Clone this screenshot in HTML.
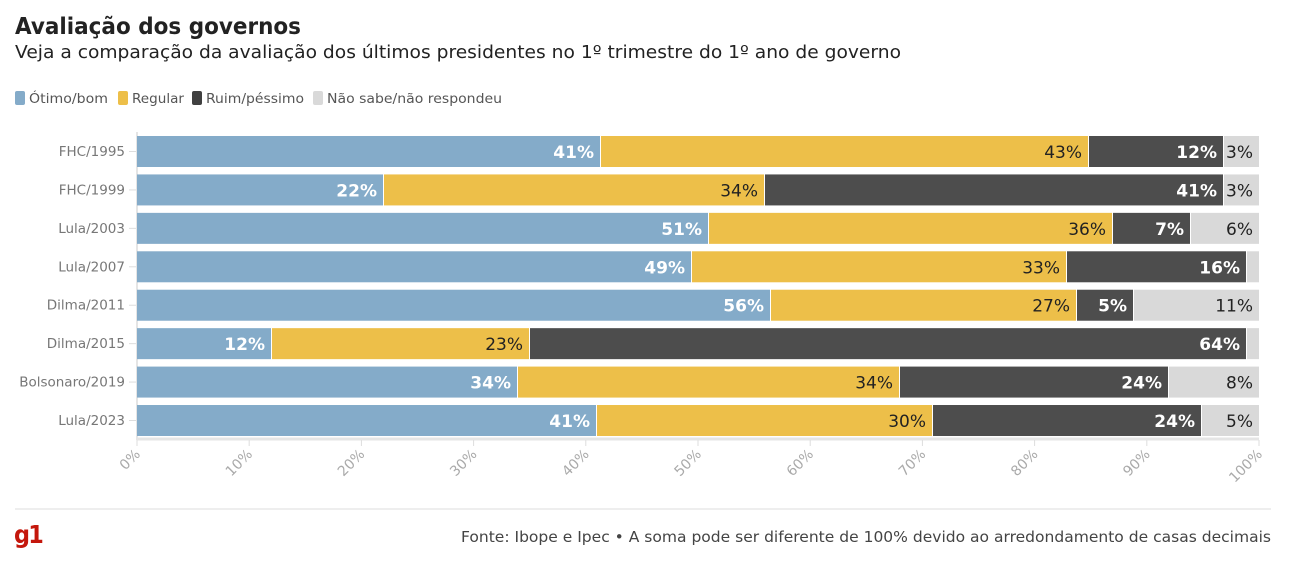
<!DOCTYPE html>
<html><head><meta charset="utf-8"><style>
body{margin:0;background:#fff;width:1303px;height:570px;overflow:hidden;font-family:"DejaVu Sans","Liberation Sans",sans-serif;}
</style></head><body>
<svg width="1303" height="570" xmlns="http://www.w3.org/2000/svg" font-family="'DejaVu Sans','Liberation Sans',sans-serif">
<text x="15" y="34" font-size="23" font-weight="bold" fill="#222" textLength="286" lengthAdjust="spacingAndGlyphs">Avaliação dos governos</text>
<text x="15" y="58" font-size="18" fill="#222" textLength="886" lengthAdjust="spacingAndGlyphs">Veja a comparação da avaliação dos últimos presidentes no 1º trimestre do 1º ano de governo</text>
<g font-size="13.5" fill="#555">
<rect x="15" y="91" width="10" height="14" rx="2" fill="#84abc9"/><text x="29" y="103" textLength="79" lengthAdjust="spacingAndGlyphs">Ótimo/bom</text>
<rect x="118" y="91" width="10" height="14" rx="2" fill="#edbf49"/><text x="132" y="103" textLength="52" lengthAdjust="spacingAndGlyphs">Regular</text>
<rect x="192" y="91" width="10" height="14" rx="2" fill="#404040"/><text x="206" y="103" textLength="98" lengthAdjust="spacingAndGlyphs">Ruim/péssimo</text>
<rect x="313" y="91" width="10" height="14" rx="2" fill="#d9d9d9"/><text x="327" y="103" textLength="175" lengthAdjust="spacingAndGlyphs">Não sabe/não respondeu</text>
</g>
<line x1="137" y1="132" x2="137" y2="440" stroke="#e5e5e5" stroke-width="2"/>
<line x1="137" y1="439" x2="1259" y2="439" stroke="#e5e5e5" stroke-width="3"/>
<g id="bars"></g>
<g font-size="14" fill="#aaa" id="ticks"></g>
<line x1="15" y1="509" x2="1271" y2="509" stroke="#ddd" stroke-width="1"/>
<text x="14" y="543" font-size="25" font-weight="bold" fill="#c4170c" letter-spacing="-2" textLength="28" lengthAdjust="spacingAndGlyphs">g1</text>
<text x="1271" y="542" font-size="15" fill="#444" text-anchor="end" textLength="810" lengthAdjust="spacingAndGlyphs">Fonte: Ibope e Ipec • A soma pode ser diferente de 100% devido ao arredondamento de casas decimais</text>
</svg>
<script>
const rows=[["FHC/1995",[601,1089,1224],["41%","43%","12%","3%"]],
["FHC/1999",[384,765,1224],["22%","34%","41%","3%"]],
["Lula/2003",[709,1113,1191],["51%","36%","7%","6%"]],
["Lula/2007",[692,1067,1247],["49%","33%","16%",""]],
["Dilma/2011",[771,1077,1134],["56%","27%","5%","11%"]],
["Dilma/2015",[272,530,1247],["12%","23%","64%",""]],
["Bolsonaro/2019",[518,900,1169],["34%","34%","24%","8%"]],
["Lula/2023",[597,933,1202],["41%","30%","24%","5%"]]];
const cols=["#84abc9","#edbf49","#4d4d4d","#d9d9d9"],tc=["#fff","#222","#fff","#222"],fw=["bold","normal","bold","normal"];
let s="";
rows.forEach((r,i)=>{const y=136+i*38.43;const xs=[137,...r[1],1259];
s+=`<text x="125" y="${y+20}" font-size="13.5" fill="#777" text-anchor="end">${r[0]}</text><line x1="129" y1="${y+15.5}" x2="136" y2="${y+15.5}" stroke="#ddd"/>`;
for(let k=0;k<4;k++){s+=`<rect x="${xs[k]}" y="${y}" width="${xs[k+1]-xs[k]-(k<3?1:0)}" height="31" fill="${cols[k]}"/>`;
if(r[2][k])s+=`<text x="${xs[k+1]-(k==3?6:7)}" y="${y+22}" font-size="17" font-weight="${fw[k]}" fill="${tc[k]}" text-anchor="end">${r[2][k]}</text>`;}
});
document.getElementById("bars").innerHTML=s;
let t="";for(let i=0;i<=10;i++){const x=137+i*112.2;t+=`<line x1="${x}" y1="440" x2="${x}" y2="446" stroke="#ddd"/><text transform="translate(${x+4},455) rotate(-45)" text-anchor="end">${i*10}%</text>`;}
document.getElementById("ticks").innerHTML=t;
</script>
</body></html>
